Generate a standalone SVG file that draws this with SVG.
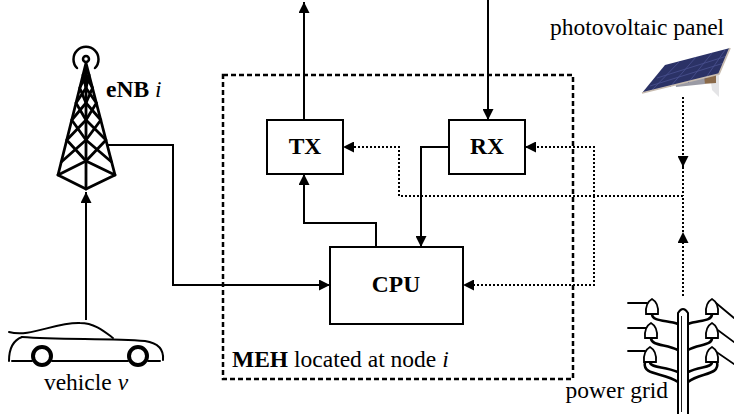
<svg xmlns="http://www.w3.org/2000/svg" width="734" height="414" viewBox="0 0 734 414">
  <style>
    text { font-family: 'Liberation Serif', 'DejaVu Serif', serif; font-size: 23.5px; fill: #000; }
    .b { font-weight: bold; }
    .it { font-style: italic; }
    .box { fill: #fff; stroke: #000; stroke-width: 2; }
    .wire { fill: none; stroke: #000; stroke-width: 2; }
    .dot { fill: none; stroke: #000; stroke-width: 2; stroke-dasharray: 2 2; }
    .frame { fill: none; stroke: #000; stroke-width: 2.5; stroke-dasharray: 5 3; }
    .ink { fill: none; stroke: #000; stroke-linecap: round; stroke-linejoin: round; }
  </style>
  <defs>
    <marker id="arrow" viewBox="0 0 10 10" refX="10" refY="5" markerWidth="11" markerHeight="11" markerUnits="userSpaceOnUse" orient="auto">
      <path d="M0,0 L10,5 L0,10 z" fill="#000" stroke="none"/>
    </marker>
  </defs>

  <rect width="734" height="414" fill="#fff"/>

  <!-- MEH frame -->
  <g id="meh">
    <rect class="frame" x="223" y="75" width="350" height="304"/>
    <text x="232" y="367"><tspan class="b">MEH</tspan> located at node <tspan class="it">i</tspan></text>
  </g>

  <!-- connectors -->
  <g id="connectors">
    <path class="wire" d="M304,120 V2" marker-end="url(#arrow)"/>
    <path class="wire" d="M488,0 V120" marker-end="url(#arrow)"/>
    <path class="wire" d="M449,147 H421 V247" marker-end="url(#arrow)"/>
    <path class="wire" d="M376,247 V223 H304 V174" marker-end="url(#arrow)"/>
    <path class="wire" d="M108,145 H173 V285 H330" marker-end="url(#arrow)"/>
    <path class="wire" d="M86,320 V192" marker-end="url(#arrow)"/>

    <path class="dot" d="M683,196 H399 V147 H343" marker-end="url(#arrow)"/>
    <path class="dot" d="M594,196 V147 H525" marker-end="url(#arrow)"/>
    <path class="dot" d="M594,196 V285 H463" marker-end="url(#arrow)"/>
    <path class="dot" d="M683,97 V167" marker-end="url(#arrow)"/>
    <path class="dot" d="M683,167 V196"/>
    <path class="dot" d="M683,296 V232" marker-end="url(#arrow)"/>
    <path class="dot" d="M683,232 V196"/>
  </g>

  <!-- processing blocks -->
  <g id="tx">
    <rect class="box" x="267" y="120" width="76" height="54"/>
    <text class="b" x="305" y="154" text-anchor="middle" font-size="23">TX</text>
  </g>
  <g id="rx">
    <rect class="box" x="449" y="120" width="76" height="54"/>
    <text class="b" x="487" y="154" text-anchor="middle" font-size="23">RX</text>
  </g>
  <g id="cpu">
    <rect class="box" x="330" y="247" width="133" height="77"/>
    <text class="b" x="396" y="292" text-anchor="middle" font-size="23">CPU</text>
  </g>

  <!-- base station tower -->
  <g id="enb">
    <circle cx="86" cy="59" r="3" fill="none" stroke="#000" stroke-width="2.5"/>
    <path class="ink" stroke-width="2.5" d="M77,68 A12.5,12.5 0 1 1 95,68"/>
    <g class="ink" stroke-width="2.8">
      <path d="M86,63 L58,175 M86,63 L115,175 M86,63 V189"/>
      <path d="M58,175 L86,189 L115,175 M58,175 L86,161 L115,175"/>
      <!-- left bracing -->
      <path d="M83,75 L86,88 M86,75 L79.75,88 M79.75,88 L86,103 M86,88 L76,103 M76,103 L86,120 M86,103 L71.75,120 M71.75,120 L86,140 M86,120 L66.75,140 M66.75,140 L86,161 M86,140 L61.25,162"/>
      <!-- right bracing -->
      <path d="M89.1,75 L86,88 M86,75 L92.5,88 M92.5,88 L86,103 M86,88 L96.4,103 M96.4,103 L86,120 M86,103 L100.8,120 M100.8,120 L86,140 M86,120 L106,140 M106,140 L86,161 M86,140 L111.6,162"/>
    </g>
    <text x="106" y="97" font-size="23"><tspan class="b">eNB</tspan> <tspan class="it">i</tspan></text>
  </g>

  <!-- vehicle -->
  <g id="vehicle">
    <g class="ink" stroke-width="2">
      <path d="M9,332 C30,338 55,322 80,323 C95,323 105,332 113,338"/>
      <path d="M22,337 C60,340 110,338 145,341 C158,343 164,350 163,360"/>
      <path d="M22,337 C14,340 9,348 9,361"/>
      <path d="M12,361 H32 M52,361 H128 M148,361 H160"/>
    </g>
    <circle cx="42" cy="356" r="9" fill="none" stroke="#000" stroke-width="4"/>
    <circle cx="138" cy="356" r="9" fill="none" stroke="#000" stroke-width="4"/>
    <text x="86" y="390" text-anchor="middle">vehicle <tspan class="it">v</tspan></text>
  </g>

  <!-- photovoltaic panel -->
  <g id="pv">
    <text x="637" y="35" text-anchor="middle">photovoltaic panel</text>
    <polygon points="710,75 719,73 719,97 712,90" fill="#e4e4e6"/>
    <polygon points="700,77 716,74 716,83 702,84" fill="#8a6a4a"/>
    <polygon points="675,80 704,76 705,84 676,87" fill="#9a9aa4"/>
    <polygon points="642,93 665,65 730,48 719,74" fill="#2b3266"/>
    <path d="M650,86 L724,63 M657,78 L727,56 M652,90 L680,61 M670,87 L696,57 M688,83 L712,53 M705,79 L725,50" stroke="#4a5290" stroke-width="0.8" fill="none"/>
    <path d="M642,93 L719,74 L730,48" fill="none" stroke="#c8bcb0" stroke-width="1.8"/>
  </g>

  <!-- power grid pole -->
  <g id="grid">
    <g class="ink" stroke-width="1.8">
      <path d="M628,303 H647 M628,328 H646 M628,351 H645"/>
      <path d="M716,303 L734,318 M715,328 L734,342 M715,351 L734,364"/>
    </g>
    <g class="ink" stroke-width="2.6">
      <!-- arms from insulators to pole -->
      <path d="M652,314 C652,322 668,320 678,324"/>
      <path d="M651,338 C651,346 666,344 678,350"/>
      <path d="M650,362 C650,368 664,366 678,372"/>
      <path d="M645,362 C642,376 664,372 678,382"/>
      <path d="M712,314 C712,322 698,320 688,324"/>
      <path d="M712,338 C712,346 698,344 688,350"/>
      <path d="M712,362 C712,368 700,366 688,372"/>
      <path d="M717,362 C720,376 700,372 688,382"/>
    </g>
    <path d="M678,414 V313 Q683,305 688,313 V414" fill="#fff" stroke="#000" stroke-width="2"/>
    <path d="M681.5,316 V412" stroke="#000" stroke-width="0.9"/>
    <g fill="#fff" stroke="#000" stroke-width="1.8">
      <path d="M646,314 Q645,303 652,299 Q659,303 658,314 z"/>
      <path d="M645,338 Q644,327 651,323 Q658,327 657,338 z"/>
      <path d="M644,362 Q643,351 650,347 Q657,351 656,362 z"/>
      <path d="M706,314 Q705,303 712,299 Q719,303 718,314 z"/>
      <path d="M706,338 Q705,327 712,323 Q719,327 718,338 z"/>
      <path d="M706,362 Q705,351 712,347 Q719,351 718,362 z"/>
    </g>
    <text x="668" y="398" text-anchor="end">power grid</text>
  </g>
</svg>
